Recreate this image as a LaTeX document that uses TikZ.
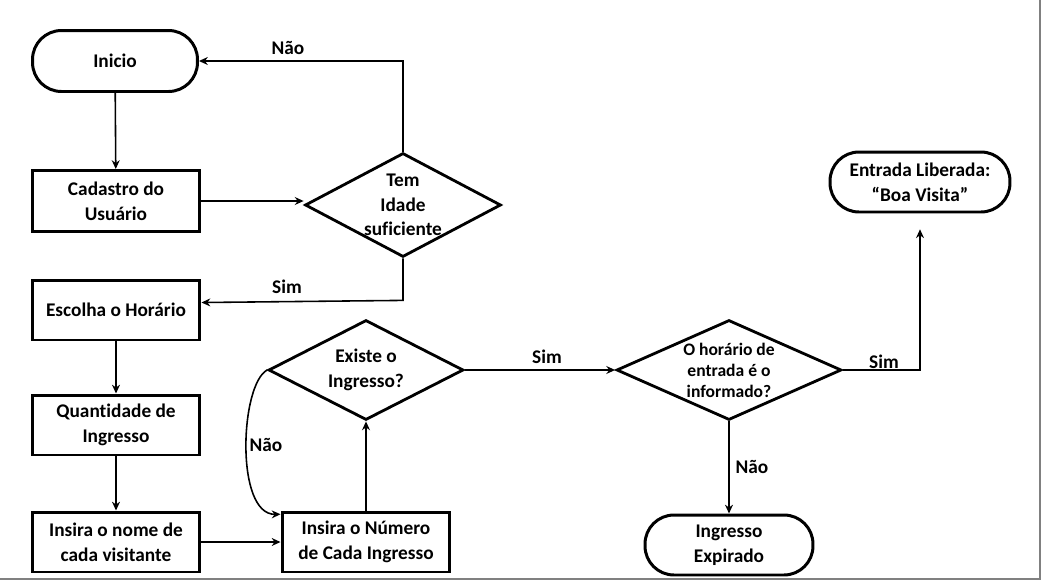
\documentclass[tikz,border=0pt]{standalone}
\usepackage{fontspec}
\setmainfont[Ligatures=NoCommon]{Carlito}
\usetikzlibrary{shapes.geometric,arrows.meta}

\begin{document}
\begin{tikzpicture}[x=0.02cm, y=-0.02cm,
    every node/.style={font=\bfseries\fontsize{11}{14}\selectfont, align=center},
    caixa/.style={draw, line width=1.7pt, minimum width=3.36cm, minimum height=1.2cm, inner sep=0pt},
    terminal/.style={caixa, rounded corners=0.58cm},
    decisao/.style={draw, diamond, aspect=2, line width=1.6pt, inner sep=-4pt},
    seta/.style={-{Stealth[length=5pt,width=4.5pt]}, line width=0.9pt},
    rotulo/.style={inner sep=1pt}]
    \useasboundingbox (0,0) rectangle (1042,585);

    % moldura
    \draw[gray, line width=1.1pt] (1040,0) -- (1040,579) -- (0,579);

    % coluna da esquerda
    \node[terminal, minimum width=3.3cm, minimum height=1.22cm] (ini) at (115,61) {Inicio};
    \node[caixa, minimum height=1.22cm] (cad) at (116,201) {Cadastro do\\Usuário};
    \node[caixa] (esc) at (116,310) {Escolha o Horário};
    \node[caixa] (qtd) at (116,425) {Quantidade de\\Ingresso};
    \node[caixa] (nome) at (116,542) {Insira o nome de\\cada visitante};

    % decisao da idade
    \node[decisao, minimum width=3.92cm, minimum height=2.08cm] (tem) at (403,205) {Tem\\Idade\\suficiente};

    % ingresso
    \node[caixa] (num) at (366,542) {Insira o Número\\de Cada Ingresso};
    \node[decisao, minimum width=3.9cm, minimum height=2cm] (exi) at (366,370) {Existe o\\Ingresso?};
    \node[decisao, minimum width=4.5cm, minimum height=2cm,
          font=\bfseries\fontsize{10}{12}\selectfont] (hor) at (729,370) {O horário de\\entrada é o\\informado?};

    % finais
    \node[terminal, minimum width=3.6cm] (ent) at (920,182) {Entrada Liberada:\\“Boa Visita”};
    \node[terminal] (exp) at (729,545) {Ingresso\\Expirado};

    % ligacoes
    \draw[seta] (ini) -- (cad);
    \draw[seta] (cad.east) -- (cad.east -| tem.west);
    \draw[seta] (tem.north) |- (ini.east);
    \draw[seta] (tem.south) -- ++(0,42) -- (esc.5);
    \draw[seta] (esc) -- (qtd);
    \draw[seta] (qtd) -- (nome);
    \draw[seta] (nome) -- (num);
    \draw[seta] (num) -- (exi);
    \draw[seta] (exi.west) .. controls (240,385) and (235,515) .. (num.162);
    \draw[seta] (exi.east) -- (hor.west);
    \draw[seta, shorten >=9pt] (hor.east) -| (ent.south);
    \draw[seta] (hor) -- (exp);

    % rotulos
    \node[rotulo] (naoIdade) at (288,48) {Não};
    \node[rotulo] (simIdade) at (287,287) {Sim};
    \node[rotulo] (naoExiste) at (266,445) {Não};
    \node[rotulo] (simExiste) at (547,357) {Sim};
    \node[rotulo] (simHora) at (884,362) {Sim};
    \node[rotulo] (naoHora) at (752,467) {Não};
\end{tikzpicture}
\end{document}
